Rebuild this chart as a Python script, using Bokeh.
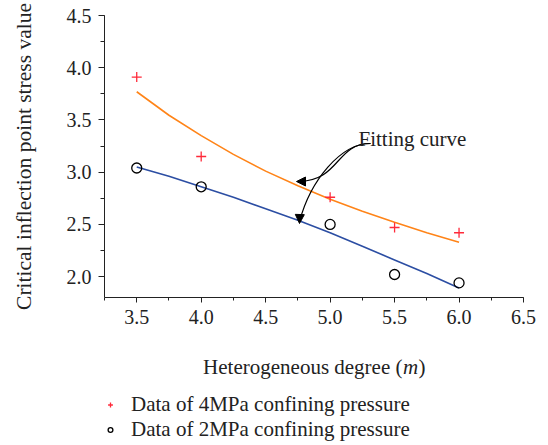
from bokeh.plotting import figure
from bokeh.layouts import column
from bokeh.models import (Label, Legend, LegendItem, SingleIntervalTicker, Range1d,
                          Arrow, NormalHead, PrintfTickFormatter)
from bokeh.embed import file_html
from bokeh.resources import INLINE

# ---- data ----
m_values = [3.5, 4.0, 5.0, 5.5, 6.0]
data_4mpa = [3.91, 3.15, 2.76, 2.47, 2.42]
data_2mpa = [3.04, 2.86, 2.50, 2.02, 1.94]

fit_m = [3.5, 3.75, 4.0, 4.25, 4.5, 4.75, 5.0, 5.25, 5.5, 5.75, 6.0]
fit_4mpa = [3.77, 3.545, 3.35, 3.17, 3.01, 2.87, 2.74, 2.625, 2.52, 2.42, 2.33]
fit_2mpa = [3.05, 2.96, 2.86, 2.76, 2.65, 2.54, 2.42, 2.29, 2.16, 2.03, 1.89]

legend_labels = ["Data of 4MPa confining pressure", "Data of 2MPa confining pressure"]
x_title_parts = ["Heterogeneous degree (", "m", ")"]
y_title = "Critical inflection point stress value"
annotation_text = "Fitting curve"

FONT = "Liberation Serif"
ORANGE = "#ff8418"
BLUE = "#2c4ea3"
RED = "#ff2a3a"
INK = "#222222"

X0, X1, Y0, Y1 = 3.25, 6.5, 1.8, 4.5
W, H = 548, 445
FL, FT, FW, FH = 104, 15, 419, 282
B1 = 40                       # bottom border of the main plot (tick labels)
H2 = H - FT - FH - B1         # height of the lower strip (x title + legend)

p = figure(frame_width=FW, frame_height=FH,
           x_range=Range1d(X0, X1), y_range=Range1d(Y0, Y1),
           output_backend="svg", toolbar_location=None,
           min_border_left=FL, min_border_right=W - FL - FW,
           min_border_top=FT, min_border_bottom=B1)
p.xgrid.visible = False
p.ygrid.visible = False
p.outline_line_color = None
p.background_fill_color = "white"
p.border_fill_color = "white"

for ax in (p.xaxis[0], p.yaxis[0]):
    ax.ticker = SingleIntervalTicker(interval=0.5, num_minor_ticks=2)
    ax.formatter = PrintfTickFormatter(format="%.1f")
    ax.axis_line_color = INK
    ax.major_tick_line_color = INK
    ax.minor_tick_line_color = INK
    ax.major_tick_in = 0
    ax.minor_tick_in = 0
    ax.major_label_text_font = FONT
    ax.major_label_text_font_size = "20px"
    ax.major_label_text_color = INK
    ax.major_label_standoff = 7
    ax.axis_label_text_font = FONT
    ax.axis_label_text_font_style = "normal"
    ax.axis_label_text_color = INK

p.xaxis.major_tick_out = 5
p.xaxis.minor_tick_out = 3
p.yaxis.major_tick_out = 6
p.yaxis.minor_tick_out = 4

p.yaxis.axis_label = y_title
p.yaxis.axis_label_text_font_size = "21.5px"
p.yaxis.axis_label_standoff = 28

# fitted curves
p.line(fit_m, fit_4mpa, line_color=ORANGE, line_width=1.6)
p.line(fit_m, fit_2mpa, line_color=BLUE, line_width=1.6)

# data points
p.scatter(m_values, data_4mpa, marker="cross", size=10, line_color=RED, line_width=1.3)
p.scatter(m_values, data_2mpa, marker="circle", size=10, line_color="black",
          fill_color=None, line_width=1.3)

# annotation geometry (pixel -> data helpers)
def dx(px):
    return X0 + (px - FL) * (X1 - X0) / FW

def dy(py):
    return Y0 + (FT + FH - py) * (Y1 - Y0) / FH

p.bezier(x0=[dx(370), dx(370)], y0=[dy(143), dy(143)],
         x1=[dx(298), dx(299)], y1=[dy(181), dy(221)],
         cx0=[dx(335), dx(340)], cy0=[dy(143), dy(143)],
         cx1=[dx(340), dx(310)], cy1=[dy(180), dy(180)],
         line_color="black", line_width=1.2)
p.add_layout(Arrow(end=NormalHead(size=9, fill_color="black", line_color="black"),
                   x_start=dx(302), y_start=dy(181), x_end=dx(296), y_end=dy(181),
                   line_color="black", line_width=1))
p.add_layout(Arrow(end=NormalHead(size=9, fill_color="black", line_color="black"),
                   x_start=dx(299.2), y_start=dy(217), x_end=dx(299), y_end=dy(223),
                   line_color="black", line_width=1))

p.add_layout(Label(x=254, y=FT + FH - 138, x_units="screen", y_units="screen",
                   text=annotation_text, text_font=FONT, text_font_size="21px",
                   text_color=INK, text_baseline="alphabetic", text_align="left"))

# ---- lower strip: x-axis title and legend (its frame is aligned with p's) ----
p2 = figure(frame_width=FW, frame_height=H2, x_range=Range1d(100, 101),
            y_range=Range1d(100, 101),
            output_backend="svg", toolbar_location=None,
            x_axis_location=None, y_axis_location=None,
            min_border_left=FL, min_border_right=W - FL - FW,
            min_border_top=0, min_border_bottom=0)
p2.xgrid.visible = False
p2.ygrid.visible = False
p2.outline_line_color = None
p2.background_fill_color = "white"
p2.border_fill_color = "white"

# legend renderers (same series; they lie outside this strip's ranges)
l_plus = p2.scatter(m_values, data_4mpa, marker="cross", size=10,
                    line_color=RED, line_width=1.3)
l_circ = p2.scatter(m_values, data_2mpa, marker="circle", size=10,
                    line_color="black", fill_color=None, line_width=1.3)

TY = H2 - (373 - (FT + FH + B1)) + 7   # baseline of x title, from strip bottom
A = 402 - FL
for txt, xpos, style, align in [(x_title_parts[0], A, "normal", "right"),
                                (x_title_parts[1], A + 0.5, "italic", "left"),
                                (x_title_parts[2], A + 16, "normal", "left")]:
    p2.add_layout(Label(x=xpos, y=TY, x_units="screen", y_units="screen", text=txt,
                        text_font=FONT, text_font_size="21px", text_font_style=style,
                        text_color=INK, text_baseline="alphabetic", text_align=align))

legend = Legend(items=[LegendItem(label=legend_labels[0], renderers=[l_plus]),
                       LegendItem(label=legend_labels[1], renderers=[l_circ])],
                location=(0, H - 441.5), glyph_width=12, glyph_height=23,
                label_height=23, label_standoff=15, padding=0, spacing=0, margin=0,
                border_line_color=None, background_fill_alpha=0,
                label_text_font=FONT, label_text_font_size="21px",
                label_text_color=INK)
p2.add_layout(legend)

layout = column(p, p2, spacing=0)
open("out.html", "w").write(file_html(layout, INLINE))
